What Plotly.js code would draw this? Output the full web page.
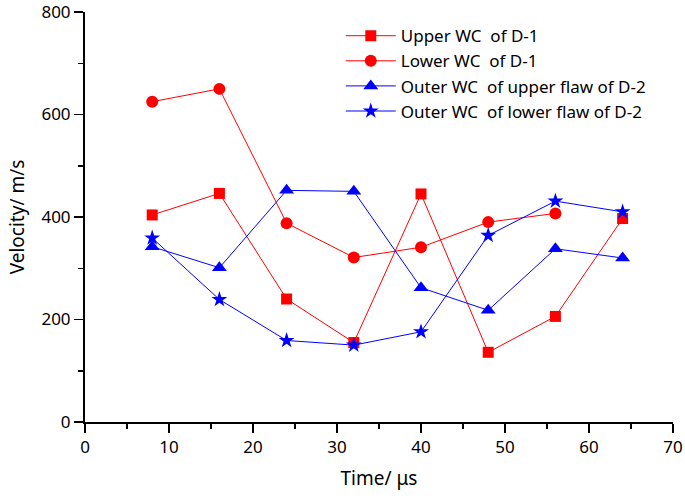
<!DOCTYPE html>
<html>
<head>
<meta charset="utf-8">
<script src="https://cdn.plot.ly/plotly-3.0.1.min.js"></script>
<style>html,body{margin:0;padding:0;background:#fff;}#chart{width:685px;height:496px;}</style>
</head>
<body>
<div id="chart"></div>
<script>
const timeUs = [8, 16, 24, 32, 40, 48, 56, 64];
const upperWcD1 = [404, 446, 240, 155, 445, 136, 206, 397];
const lowerWcD1 = [625, 650, 388, 321, 341, 390, 407];
const outerUpperFlawD2 = [342, 301, 452, 450, 262, 218, 338, 320];
const outerLowerFlawD2 = [359, 239, 159, 150, 176, 364, 431, 410];
const seriesNames = [
  'Upper WC  of D-1',
  'Lower WC  of D-1',
  'Outer WC  of upper flaw of D-2',
  'Outer WC  of lower flaw of D-2'
];
const xTicks = [0, 10, 20, 30, 40, 50, 60, 70];
const yTicks = [0, 200, 400, 600, 800];

const font = 'Noto Sans, Open Sans, sans-serif';
function tr(y, name, color, symbol, size) {
  return {
    x: timeUs.slice(0, y.length), y: y, name: name, type: 'scatter', mode: 'lines+markers',
    line: {color: color, width: 1},
    marker: {color: color, symbol: symbol, size: size, line: {width: 0}}
  };
}
const data = [
  tr(upperWcD1, seriesNames[0], '#ff0000', 'square', 11),
  tr(lowerWcD1, seriesNames[1], '#ff0000', 'circle', 12),
  tr(outerUpperFlawD2, seriesNames[2], '#0000ff', 'triangle-up', 13),
  tr(outerLowerFlawD2, seriesNames[3], '#0000ff', 'star', 12)
];
const layout = {
  width: 685, height: 496,
  margin: {l: 85, r: 12, t: 12, b: 74},
  paper_bgcolor: '#fff', plot_bgcolor: '#fff',
  font: {family: font, size: 16, color: '#000'},
  showlegend: true,
  legend: {x: 0.435, y: 0.985, xanchor: 'left', yanchor: 'top', bgcolor: 'rgba(0,0,0,0)',
           font: {family: font, size: 17, color: '#000'}, tracegroupgap: 0, itemwidth: 50},
  xaxis: {
    range: [0, 70], tickvals: xTicks, ticktext: xTicks.map(String),
    showgrid: false, zeroline: false, showline: true, linecolor: '#000', linewidth: 2,
    ticks: 'outside', ticklen: 9, tickwidth: 1.5, tickcolor: '#000',
    minor: {dtick: 5, tick0: 0, ticks: 'outside', ticklen: 5, tickwidth: 1.5, tickcolor: '#000', showgrid: false},
    tickfont: {size: 17}, ticklabeloverflow: 'allow',
    title: {text: 'Time/ μs', font: {size: 19}, standoff: 14}
  },
  yaxis: {
    range: [0, 800], tickvals: yTicks, ticktext: yTicks.map(String),
    showgrid: false, zeroline: false, showline: true, linecolor: '#000', linewidth: 2,
    ticks: 'outside', ticklen: 9, tickwidth: 1.5, tickcolor: '#000',
    minor: {dtick: 100, tick0: 0, ticks: 'outside', ticklen: 5, tickwidth: 1.5, tickcolor: '#000', showgrid: false},
    tickfont: {size: 17}, ticklabeloverflow: 'allow',
    title: {text: 'Velocity/ m/s', font: {size: 19}, standoff: 12}
  }
};
Plotly.newPlot('chart', data, layout, {displayModeBar: false, staticPlot: true});
</script>
</body>
</html>
